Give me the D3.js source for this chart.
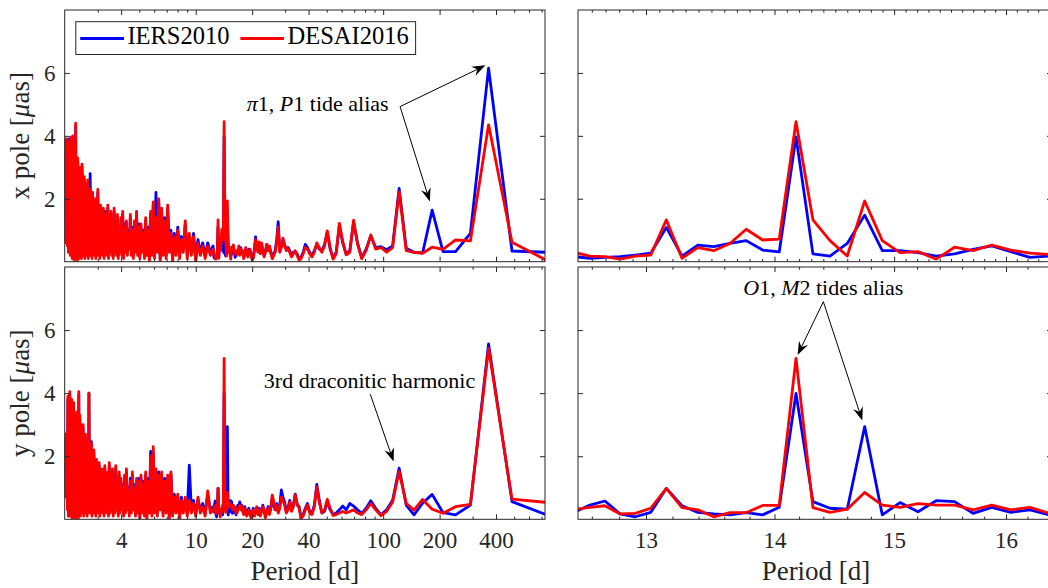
<!DOCTYPE html>
<html>
<head>
<meta charset="utf-8">
<script src="https://cdn.jsdelivr.net/npm/d3@7"></script>
<style>
  html, body { margin: 0; padding: 0; background: #fff; }
  svg { display: block; font-family: "Liberation Serif", "Times New Roman", serif; }
</style>
</head>
<body>
<svg id="fig" width="1048" height="588"></svg>
<script>
// Amplitude spectra of polar-motion residuals (x and y pole) for two ocean-tide models.
// Spectral lines sit at periods baselineDays / k.
const baselineDays = 1460;
const longHarmonics = d3.range(2, 118);          // k = 2 ... 117  (730 d ... 12.5 d)
const shortHarmonics = d3.range(730, 117, -4);   // k = 730 ... 118 (2 d ... 12.4 d)

// ---- x pole, k = 2 ... 117 ----
const xPoleIersLong = [
  0.30, 0.34, 6.15, 0.90, 0.32, 0.32, 1.64, 0.27, 0.30, 0.43, 2.33,
  0.50, 0.38, 0.48, 0.45, 0.82, 0.40, 0.12, 0.60, 1.25, 0.35,
  0.25, 0.60, 1.15, 0.30, 0.12, 0.40, 0.95, 0.55, 0.35, 0.40,
  0.55, 0.35, 0.20, 0.30, 0.45, 0.55, 0.30, 0.15, 0.10, 0.25,
  0.30, 0.30, 0.20, 0.35, 0.45, 0.40, 0.50, 0.70, 0.50, 0.35,
  1.27, 0.70, 0.35, 0.25, 0.15, 0.30, 0.45, 0.40, 0.55, 0.35,
  0.20, 0.30, 0.55, 0.30, 0.60, 0.35, 0.50, 0.79, 0.40, 0.15,
  0.10, 0.25, 0.35, 0.40, 0.20, 0.35, 0.40, 0.30, 0.15, 0.30,
  0.35, 0.45, 0.25, 0.40, 0.30, 0.30,
  0.18, 0.14, 0.32, 0.50, 0.39, 0.25, 0.18, 0.29, 0.35, 0.35, 1.48, 0.58, 0.18, 0.25,
  3.97, 0.31, 0.37, 0.67, 0.58, 0.48, 0.53, 0.18, 1.09, 0.27, 0.21, 0.16, 0.14, 0.11, 0.16
];
const xPoleDesaiLong = [
  0.07, 0.62, 4.35, 0.66, 0.69, 0.39, 0.46, 0.27, 0.30, 0.35, 2.22,
  0.45, 0.30, 0.45, 0.40, 0.85, 0.35, 0.10, 0.55, 1.32, 0.30,
  0.22, 0.65, 1.22, 0.25, 0.08, 0.45, 0.98, 0.50, 0.30, 0.45,
  0.60, 0.30, 0.15, 0.25, 0.40, 0.45, 0.25, 0.10, 0.05, 0.20,
  0.35, 0.25, 0.15, 0.30, 0.42, 0.35, 0.55, 0.75, 0.45, 0.30,
  1.10, 0.60, 0.30, 0.20, 0.10, 0.25, 0.50, 0.35, 0.55, 0.30,
  0.15, 0.35, 0.60, 0.25, 0.63, 0.30, 0.45, 0.70, 0.35, 0.10,
  0.05, 0.20, 0.40, 0.30, 0.15, 0.30, 0.45, 0.20, 0.10, 0.35,
  0.25, 0.40, 0.20, 0.50, 0.25, 0.35,
  0.23, 0.27, 0.37, 0.53, 0.35, 0.46, 0.08, 0.32, 0.29, 0.67, 1.93, 0.18, 0.67, 1.33,
  4.45, 0.72, 0.69, 1.03, 0.58, 0.35, 0.45, 0.11, 1.33, 0.21, 0.18, 0.08, 0.16, 0.18, 0.29
];

// ---- x pole, k = 730, 726, ... 118 ----
const xPoleIersShort = [
  1.3, 3.85, 0.7, 3.8, 1.1, 3.8, 0.6, 2.9, 0.4, 3.9,
  0.5, 3.6, 0.3, 3.9, 0.6, 3.0, 0.2, 3.9, 0.4, 3.1,
  0.1, 3.5, 0.3, 4.3, 0.2, 2.7, 0.1, 3.2, 0.4, 2.5,
  0.2, 2.9, 0.3, 2.3, 0.2, 3.0, 0.5, 2.1, 0.3, 2.6,
  0.2, 2.4, 0.4, 1.9, 0.3, 2.5, 0.2, 2.0, 0.4, 2.8,
  0.3, 1.8, 0.2, 2.1, 0.5, 1.6, 0.3, 1.9, 0.2, 1.7,
  0.4, 2.2, 0.3, 1.5, 0.2, 1.7, 0.4, 1.3, 0.3, 1.6,
  0.2, 1.6, 0.4, 1.2, 0.3, 1.7, 0.2, 1.4, 0.5, 1.5,
  0.3, 1.1, 0.2, 1.6, 0.4, 1.3, 0.3, 1.4, 0.2, 1.0,
  0.4, 1.3, 0.3, 1.5, 0.2, 1.2, 0.4, 1.2, 0.3, 1.0,
  0.5, 1.4, 0.3, 1.1, 0.2, 1.2, 0.4, 1.5, 0.3, 1.2,
  0.2, 1.1, 0.4, 1.0, 0.2, 1.3, 0.3, 1.1, 0.1, 1.5,
  0.3, 1.8, 0.2, 2.2, 0.4, 1.9, 0.1, 1.6, 0.3, 1.4,
  0.2, 1.7, 0.4, 1.0, 0.1, 0.9, 0.3, 1.1, 0.2, 0.8,
  0.4, 1.2, 0.2, 0.8, 0.3, 0.9, 0.1, 0.7, 0.3, 0.6,
  0.2, 0.6, 0.3, 0.5
];
const xPoleDesaiShort = [
  1.2, 3.9, 0.6, 3.7, 1.0, 3.9, 0.5, 2.8, 0.3, 3.8,
  0.4, 3.5, 0.2, 3.95, 0.5, 2.9, 0.1, 4.0, 0.3, 3.2,
  0.05, 3.6, 0.2, 4.4, 0.1, 2.6, 0.0, 3.3, 0.3, 2.4,
  0.1, 3.0, 0.2, 2.2, 0.1, 3.1, 0.4, 2.0, 0.2, 2.7,
  0.1, 2.5, 0.3, 1.8, 0.2, 2.6, 0.1, 1.9, 0.3, 2.3,
  0.2, 1.7, 0.1, 2.2, 0.4, 1.5, 0.2, 2.0, 0.1, 1.6,
  0.3, 2.3, 0.2, 1.4, 0.1, 1.8, 0.3, 1.2, 0.2, 1.7,
  0.1, 1.5, 0.3, 1.1, 0.2, 1.8, 0.1, 1.3, 0.4, 1.6,
  0.2, 1.0, 0.1, 1.7, 0.3, 1.2, 0.2, 1.5, 0.1, 0.9,
  0.3, 1.4, 0.2, 1.6, 0.1, 1.1, 0.3, 1.3, 0.2, 0.9,
  0.4, 1.5, 0.2, 1.0, 0.1, 1.3, 0.3, 1.6, 0.2, 1.1,
  0.1, 1.2, 0.3, 0.9, 0.1, 1.4, 0.2, 1.0, 0.0, 1.6,
  0.2, 1.9, 0.1, 1.4, 0.3, 2.0, 0.0, 1.7, 0.2, 1.3,
  0.1, 1.8, 0.3, 0.9, 0.0, 0.8, 0.2, 1.0, 0.1, 0.7,
  0.3, 1.3, 0.1, 0.9, 0.2, 0.8, 0.0, 0.6, 0.2, 0.5,
  0.1, 0.5, 0.2, 0.4
];

// ---- y pole, k = 2 ... 117 ----
const yPoleIersLong = [
  0.16, 0.56, 5.56, 0.45, 0.14, 0.21, 0.79, 0.51, 0.14, 0.45, 1.62,
  0.60, 0.30, 0.14, 0.35, 0.59, 0.35, 0.19, 0.30, 0.42, 0.50,
  0.30, 0.42, 0.30, 0.20, 0.15, 0.30, 0.55, 0.25, 0.20, 0.60,
  1.11, 0.45, 0.20, 0.25, 0.50, 0.35, 0.15, 0.02, 0.40, 0.45,
  0.80, 0.45, 0.30, 0.60, 0.35, 0.25, 0.55, 0.70, 0.93, 0.45,
  0.25, 0.50, 0.30, 0.45, 0.70, 0.35, 0.20, 0.40, 0.25, 0.10,
  0.25, 0.45, 0.30, 0.15, 0.35, 0.20, 0.35, 0.30, 0.15, 0.35,
  0.20, 0.10, 0.20, 0.35, 0.25, 0.15, 0.30, 0.40, 0.20, 0.30,
  0.45, 0.35, 0.55, 0.40, 0.45, 0.30,
  0.14, 0.30, 0.22, 0.38, 0.19, 0.56, 0.59, 0.24, 0.53, 0.14, 2.94, 0.32, 0.35, 0.56,
  3.99, 0.38, 0.14, 0.21, 0.14, 0.17, 0.22, 0.43, 0.98, 0.22, 0.08, 0.17, 0.58, 0.45, 0.24
];
const yPoleDesaiLong = [
  0.54, 0.64, 5.42, 0.47, 0.40, 0.19, 0.32, 0.63, 0.29, 0.51, 1.51,
  0.55, 0.25, 0.12, 0.30, 0.50, 0.30, 0.15, 0.20, 0.30, 0.25,
  0.20, 0.25, 0.20, 0.15, 0.12, 0.35, 0.63, 0.30, 0.20, 0.55,
  1.03, 0.40, 0.15, 0.20, 0.45, 0.30, 0.10, 0.05, 0.35, 0.50,
  0.77, 0.40, 0.25, 0.55, 0.30, 0.20, 0.45, 0.60, 0.70, 0.35,
  0.20, 0.45, 0.30, 0.55, 0.77, 0.40, 0.15, 0.35, 0.20, 0.05,
  0.30, 0.40, 0.25, 0.10, 0.30, 0.15, 0.40, 0.25, 0.10, 0.30,
  0.20, 0.05, 0.15, 0.30, 0.20, 0.10, 0.25, 0.35, 0.15, 0.25,
  0.40, 0.30, 0.45, 0.35, 0.30, 0.20,
  0.19, 0.38, 0.30, 0.45, 0.30, 0.45, 0.45, 0.50, 0.38, 0.45, 0.85, 0.32, 0.22, 0.37,
  5.10, 0.44, 0.44, 0.21, 0.21, 0.08, 0.30, 0.37, 0.98, 0.35, 0.19, 0.17, 0.43, 0.38, 0.32
];

// ---- y pole, k = 730, 726, ... 118 ----
const yPoleIersShort = [
  1.3, 2.6, 0.8, 2.6, 1.0, 2.7, 0.4, 3.8, 0.2, 3.5,
  0.3, 3.95, 0.2, 3.1, 0.4, 3.7, 0.1, 3.6, 0.3, 3.6,
  0.2, 3.3, 0.1, 2.7, 0.3, 3.3, 0.2, 2.9, 0.1, 3.95,
  0.3, 3.2, 0.2, 3.0, 0.4, 2.5, 0.3, 2.9, 0.2, 2.3,
  0.4, 2.6, 0.3, 2.0, 0.2, 2.4, 0.3, 4.0, 0.4, 2.1,
  0.3, 2.46, 0.2, 1.9, 0.4, 2.1, 0.3, 1.7, 0.2, 1.8,
  0.4, 1.6, 0.3, 1.7, 0.2, 1.3, 0.4, 1.5, 0.3, 1.4,
  0.2, 1.6, 0.4, 1.2, 0.3, 1.4, 0.2, 1.7, 0.3, 1.5,
  0.4, 1.5, 0.2, 1.3, 0.3, 1.6, 0.4, 1.1, 0.2, 1.4,
  0.3, 1.2, 0.4, 1.1, 0.2, 1.3, 0.3, 1.5, 0.4, 1.0,
  0.2, 1.3, 0.3, 1.4, 0.4, 1.1, 0.2, 1.2, 0.3, 1.3,
  0.1, 1.3, 0.3, 1.2, 0.2, 1.4, 0.1, 1.3, 0.3, 2.15,
  0.2, 2.1, 0.3, 1.5, 0.2, 1.5, 0.4, 1.4, 0.2, 1.3,
  0.3, 1.3, 0.1, 1.45, 0.2, 0.8, 0.3, 0.7, 0.1, 0.7,
  0.3, 0.6, 0.2, 1.72, 0.3, 0.6, 0.2, 0.6, 0.3, 0.5,
  0.2, 0.8, 0.3, 0.4
];
const yPoleDesaiShort = [
  1.1, 2.7, 0.7, 2.5, 0.9, 2.75, 0.3, 3.9, 0.1, 3.6,
  0.2, 4.05, 0.1, 3.0, 0.3, 3.8, 0.0, 3.5, 0.2, 3.7,
  0.1, 3.2, 0.0, 2.6, 0.2, 3.4, 0.1, 2.8, 0.0, 4.05,
  0.2, 3.3, 0.1, 2.9, 0.3, 2.4, 0.2, 3.0, 0.1, 2.2,
  0.3, 2.7, 0.2, 1.9, 0.1, 2.5, 0.2, 4.0, 0.3, 2.0,
  0.2, 2.4, 0.1, 1.8, 0.3, 2.2, 0.2, 1.6, 0.1, 1.9,
  0.3, 1.5, 0.2, 1.8, 0.1, 1.2, 0.3, 1.6, 0.2, 1.3,
  0.1, 1.7, 0.3, 1.1, 0.2, 1.5, 0.1, 1.8, 0.2, 1.4,
  0.3, 1.6, 0.1, 1.2, 0.2, 1.7, 0.3, 1.0, 0.1, 1.5,
  0.2, 1.3, 0.3, 1.0, 0.1, 1.4, 0.2, 1.6, 0.3, 0.9,
  0.1, 1.2, 0.2, 1.5, 0.3, 1.0, 0.1, 1.3, 0.2, 1.2,
  0.0, 1.4, 0.2, 1.1, 0.1, 1.5, 0.0, 1.2, 0.2, 2.0,
  0.1, 2.3, 0.2, 1.6, 0.1, 1.4, 0.3, 1.5, 0.1, 1.2,
  0.2, 1.4, 0.0, 1.5, 0.1, 0.7, 0.2, 0.8, 0.0, 0.6,
  0.2, 0.7, 0.1, 0.6, 0.2, 0.5, 0.1, 0.7, 0.2, 0.4,
  0.1, 0.9, 0.2, 0.3
];

// axis ticks
const wideMajorTicks = [4, 10, 20, 40, 100, 200, 400];
const wideMinorTicks = [3, 5, 6, 7, 8, 9, 30, 50, 60, 70, 80, 90, 300, 500, 600, 700];
const zoomMajorTicks = [13, 14, 15, 16];
const yTicks = [2, 4, 6];

const seriesNames = ["IERS2010", "DESAI2016"];
const seriesColors = ["#0000ff", "#ff0000"];

function spectrum(shortVals, longVals) {
  const pts = shortHarmonics.map((k, i) => ({ period: baselineDays / k, value: shortVals[i] }))
    .concat(longHarmonics.map((k, i) => ({ period: baselineDays / k, value: longVals[i] })));
  return pts.sort((a, b) => a.period - b.period);
}

const xPole = [spectrum(xPoleIersShort, xPoleIersLong), spectrum(xPoleDesaiShort, xPoleDesaiLong)];
const yPole = [spectrum(yPoleIersShort, yPoleIersLong), spectrum(yPoleDesaiShort, yPoleDesaiLong)];

const ink = "#262626";
const svg = d3.select("#fig");

const panels = [
  { id: "xw", left: 64.7, right: 545, top: 10, bottom: 261.7, span: "wide", data: xPole, row: 0 },
  { id: "xz", left: 578, right: 1052, top: 10, bottom: 261.7, span: "zoom", data: xPole, row: 0, minorStep: 1 },
  { id: "yw", left: 64.7, right: 545, top: 267, bottom: 519.3, span: "wide", data: yPole, row: 1 },
  { id: "yz", left: 578, right: 1052, top: 267, bottom: 519.3, span: "zoom", data: yPole, row: 1, minorStep: 2 }
];

const defs = svg.append("defs");

panels.forEach(p => {
  const x = p.span === "wide"
    ? d3.scaleLog().domain([2, 730]).range([p.left, p.right])
    : d3.scaleLog().domain([12.5, 16.43]).range([p.left, p.right]);
  const y = d3.scaleLinear().domain([0, 8]).range([p.bottom, p.top]);
  p.x = x; p.y = y;

  defs.append("clipPath").attr("id", "clip-" + p.id)
    .append("rect").attr("x", p.left).attr("y", p.top)
    .attr("width", p.right - p.left).attr("height", p.bottom - p.top);

  const g = svg.append("g");
  g.append("rect").attr("x", p.left).attr("y", p.top)
    .attr("width", p.right - p.left).attr("height", p.bottom - p.top)
    .attr("fill", "#fff");

  // spectra
  const line = d3.line().x(d => x(d.period)).y(d => y(d.value));
  const lo = x.domain()[0] * 0.97, hi = x.domain()[1] * 1.03;
  const lines = g.append("g").attr("clip-path", `url(#clip-${p.id})`);
  p.data.forEach((s, i) => {
    lines.append("path")
      .datum(s.filter(d => d.period >= lo && d.period <= hi))
      .attr("d", line)
      .attr("fill", "none")
      .attr("stroke", seriesColors[i])
      .attr("stroke-width", 2.8)
      .attr("stroke-linejoin", "round")
      .attr("stroke-linecap", "round");
  });

  // frame
  g.append("rect").attr("x", p.left).attr("y", p.top)
    .attr("width", p.right - p.left).attr("height", p.bottom - p.top)
    .attr("fill", "none").attr("stroke", ink).attr("stroke-width", 1);

  // tick sets
  const majors = p.span === "wide" ? wideMajorTicks : zoomMajorTicks;
  const minors = p.span === "wide"
    ? wideMinorTicks
    : d3.range(126, 165, p.minorStep).filter(v => v % 10 !== 0).map(v => v / 10);
  const showX = p.row === 1;

  const styleAxis = sel => {
    sel.select(".domain").remove();
    sel.selectAll("line").attr("stroke", ink).attr("stroke-width", 1);
    sel.attr("font-family", null).attr("font-size", null);
  };

  const bottomMajor = g.append("g").attr("transform", `translate(0,${p.bottom})`)
    .call(d3.axisBottom(x).tickValues(majors).tickSize(-5)
      .tickFormat(showX ? d3.format("d") : () => ""));
  styleAxis(bottomMajor);
  bottomMajor.selectAll("text")
    .attr("y", 29.2).attr("dy", null)
    .attr("fill", ink).style("font-size", "23px");

  g.append("g").attr("transform", `translate(0,${p.bottom})`)
    .call(d3.axisBottom(x).tickValues(minors).tickSize(-2.7).tickFormat(() => ""))
    .call(styleAxis);
  g.append("g").attr("transform", `translate(0,${p.top})`)
    .call(d3.axisTop(x).tickValues(majors).tickSize(-5).tickFormat(() => ""))
    .call(styleAxis);
  g.append("g").attr("transform", `translate(0,${p.top})`)
    .call(d3.axisTop(x).tickValues(minors).tickSize(-2.7).tickFormat(() => ""))
    .call(styleAxis);

  const leftAxis = g.append("g").attr("transform", `translate(${p.left},0)`)
    .call(d3.axisLeft(y).tickValues(yTicks).tickSize(-5).tickPadding(9.2)
      .tickFormat(p.span === "wide" ? d3.format("d") : () => ""));
  styleAxis(leftAxis);
  leftAxis.selectAll("text").attr("fill", ink).style("font-size", "23px");

  g.append("g").attr("transform", `translate(${p.right},0)`)
    .call(d3.axisRight(y).tickValues(yTicks).tickSize(-5).tickFormat(() => ""))
    .call(styleAxis);
});

// axis titles
const byId = id => panels.find(p => p.id === id);
[["xw", "x pole "], ["yw", "y pole "]].forEach(([id, lead]) => {
  const p = byId(id);
  const t = svg.append("text")
    .attr("transform", `translate(28.5,${(p.top + p.bottom) / 2}) rotate(-90)`)
    .attr("text-anchor", "middle").attr("fill", ink).style("font-size", "27px");
  t.append("tspan").text(lead + "[");
  t.append("tspan").attr("font-style", "italic").text("μ");
  t.append("tspan").text("as]");
});
[["yw", 304.9], ["yz", 816]].forEach(([id, cx]) => {
  svg.append("text").attr("x", cx).attr("y", 580)
    .attr("text-anchor", "middle").attr("fill", ink).style("font-size", "27px")
    .text("Period [d]");
});

// legend
const legend = svg.append("g");
legend.append("rect").attr("x", 75.8).attr("y", 21.7).attr("width", 339.8).attr("height", 32.8)
  .attr("fill", "#fff").attr("stroke", ink).attr("stroke-width", 1);
const legendX = [[80.2, 124, 127.4], [240.4, 284, 287.5]];
seriesNames.forEach((name, i) => {
  const [a, b, tx] = legendX[i];
  legend.append("line").attr("x1", a).attr("x2", b).attr("y1", 38.5).attr("y2", 38.5)
    .attr("stroke", seriesColors[i]).attr("stroke-width", 2.8);
  legend.append("text").attr("x", tx).attr("y", 44).attr("fill", "#000")
    .style("font-size", "24.5px").text(name);
});

// annotations (positions in data coordinates of their panel)
const annotations = [
  { panel: "xw", text: [["π", 1], ["1, ", 0], ["P", 1], ["1 tide alias", 0]], at: [44.75, 4.79],
    arrows: [{ from: [123.1, 4.93], to: [351.5, 6.24] }, { from: [123.1, 4.93], to: [177.4, 1.91] }] },
  { panel: "yw", text: [["3rd draconitic harmonic", 0]], at: [84.56, 4.17],
    arrows: [{ from: [85.3, 3.97], to: [113.7, 1.83] }] },
  { panel: "yz", text: [["O", 1], ["1, ", 0], ["M", 1], ["2 tides alias", 0]], at: [14.4, 7.12],
    arrows: [{ from: [14.4, 6.9], to: [14.188, 5.21] }, { from: [14.4, 6.9], to: [14.727, 3.13] }] }
];

function drawArrow(g, x1, y1, x2, y2) {
  const dx = x2 - x1, dy = y2 - y1, len = Math.hypot(dx, dy);
  const ux = dx / len, uy = dy / len, nx = -uy, ny = ux;
  const L = 13.5, half = 5, notch = 9;
  const bx = x2 - ux * L, by = y2 - uy * L;
  const cx = x2 - ux * notch, cy = y2 - uy * notch;
  g.append("line").attr("x1", x1).attr("y1", y1).attr("x2", cx).attr("y2", cy)
    .attr("stroke", "#000").attr("stroke-width", 1);
  g.append("path")
    .attr("d", `M${x2},${y2}L${bx + nx * half},${by + ny * half}L${cx},${cy}L${bx - nx * half},${by - ny * half}Z`)
    .attr("fill", "#000");
}

const annoLayer = svg.append("g");
annotations.forEach(a => {
  const p = byId(a.panel);
  const t = annoLayer.append("text")
    .attr("x", p.x(a.at[0])).attr("y", p.y(a.at[1]))
    .attr("text-anchor", "middle").attr("fill", "#000").style("font-size", "22px");
  a.text.forEach(([s, it]) => {
    const ts = t.append("tspan").text(s);
    if (it) ts.attr("font-style", "italic");
  });
  a.arrows.forEach(ar => drawArrow(annoLayer,
    p.x(ar.from[0]), p.y(ar.from[1]), p.x(ar.to[0]), p.y(ar.to[1])));
});
</script>
</body>
</html>
